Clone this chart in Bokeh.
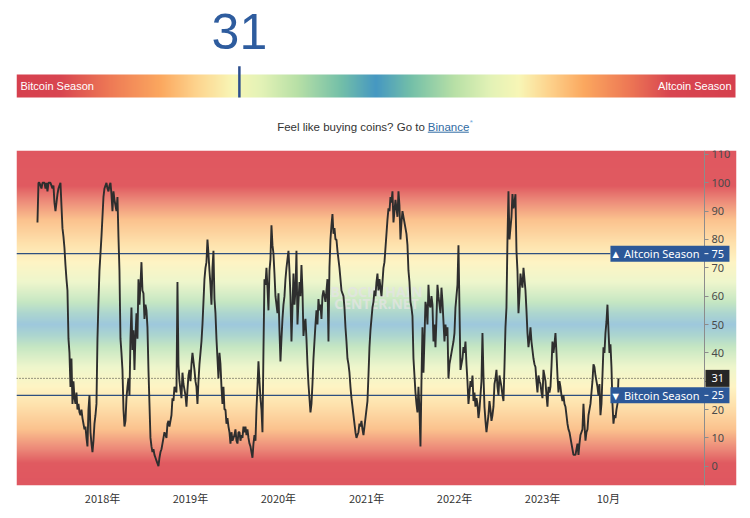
import numpy as np
import pandas as pd
from bokeh.plotting import figure
from bokeh.layouts import column
from bokeh.models import Range1d, LinearAxis, FixedTicker
from bokeh.embed import file_html
from bokeh.resources import INLINE
from bokeh.core.properties import value

# ---------------- data ----------------
first_date = "2017-04-06"
sample_step_days = 4.15
index_values = [
    86, 100, 100, 99, 98, 100, 100, 100, 98, 100, 97, 100, 100, 100, 99, 98, 99, 93, 90, 93,
    96, 98, 99, 100, 92, 84, 81, 77, 71, 66, 62, 45, 40, 28, 38, 22, 30, 24, 22, 26,
    20, 22, 19, 18, 20, 17, 15, 13, 14, 10, 7, 20, 25, 12, 8, 5, 9, 15, 18, 22,
    45, 58, 69, 75, 81, 88, 95, 98, 99, 100, 98, 97, 99, 100, 96, 90, 97, 94, 92, 90,
    95, 81, 69, 45, 40, 34, 20, 14, 16, 24, 28, 31, 25, 45, 56, 41, 48, 34, 46, 54,
    45, 66, 57, 64, 72, 62, 61, 52, 57, 55, 49, 34, 22, 10, 7, 5, 6, 4, 3, 2,
    1, 0, 3, 5, 6, 8, 10, 12, 11, 10, 15, 16, 14, 16, 18, 24, 23, 28, 27, 26,
    65, 36, 30, 27, 24, 33, 29, 27, 25, 21, 27, 32, 34, 30, 36, 40, 37, 34, 30, 28,
    22, 30, 36, 40, 44, 50, 58, 66, 70, 72, 80, 75, 69, 64, 57, 70, 76, 59, 54, 45,
    38, 31, 40, 36, 28, 22, 28, 20, 20, 15, 17, 14, 12, 8, 12, 9, 10, 11, 13, 9,
    8, 12, 12, 9, 11, 10, 14, 12, 14, 11, 13, 10, 8, 7, 5, 3, 8, 11, 9, 20,
    28, 37, 30, 24, 20, 12, 41, 66, 64, 70, 63, 55, 69, 73, 85, 78, 75, 68, 60, 57,
    54, 61, 48, 37, 45, 52, 57, 60, 66, 70, 73, 76, 69, 60, 44, 56, 68, 57, 62, 76,
    50, 58, 65, 60, 71, 62, 46, 50, 52, 45, 36, 29, 24, 19, 22, 29, 38, 44, 50, 55,
    50, 59, 55, 57, 52, 60, 62, 60, 58, 62, 66, 44, 70, 80, 85, 89, 82, 84, 80, 80,
    76, 73, 70, 66, 62, 61, 60, 56, 49, 44, 38, 36, 33, 28, 24, 21, 18, 15, 12, 10,
    11, 12, 15, 14, 16, 13, 11, 14, 17, 20, 23, 32, 42, 48, 52, 56, 58, 62, 60, 65,
    68, 62, 66, 63, 60, 65, 70, 72, 77, 82, 87, 91, 90, 95, 93, 97, 86, 90, 94, 91,
    88, 97, 92, 80, 86, 90, 88, 86, 84, 82, 78, 69, 65, 58, 56, 53, 38, 32, 26, 22,
    19, 28, 20, 7, 30, 49, 33, 45, 58, 56, 50, 64, 57, 56, 60, 57, 44, 50, 42, 52,
    64, 60, 57, 54, 63, 58, 51, 44, 50, 46, 49, 31, 36, 38, 40, 42, 44, 47, 56, 60,
    64, 78, 56, 34, 36, 38, 42, 40, 44, 36, 30, 22, 26, 30, 28, 32, 23, 26, 21, 24,
    22, 17, 20, 25, 30, 47, 32, 21, 16, 12, 15, 18, 23, 20, 16, 18, 21, 29, 31, 34,
    28, 25, 32, 30, 28, 25, 23, 35, 49, 56, 80, 97, 80, 84, 88, 96, 91, 93, 96, 76,
    69, 54, 60, 68, 65, 63, 70, 66, 62, 55, 47, 42, 45, 49, 44, 41, 38, 36, 35, 30,
    26, 32, 30, 29, 26, 24, 34, 32, 30, 25, 21, 28, 26, 28, 35, 44, 40, 43, 47, 40,
    32, 26, 30, 28, 25, 23, 25, 22, 21, 18, 15, 13, 12, 10, 8, 6, 4, 4, 4, 6,
    8, 4, 8, 11, 12, 13, 22, 15, 9, 12, 13, 18, 20, 22, 26, 30, 36, 35, 32, 30,
    28, 25, 29, 18, 22, 32, 42, 40, 47, 51, 57, 48, 40, 43, 35, 22, 15, 18, 17, 20,
    22, 31,
]
current_value = index_values[-1]

x_tick_dates = ["2018-01-01", "2019-01-01", "2020-01-01", "2021-01-01",
                "2022-01-01", "2023-01-01", "2023-10-01"]
x_tick_labels = ["2018年", "2019年", "2020年", "2021年", "2022年", "2023年", "10月"]
y_ticks = [0, 10, 20, 30, 40, 50, 60, 70, 80, 90, 100, 110]

altcoin_level = 75
bitcoin_level = 25
altcoin_tag = "▲ Altcoin Season"
bitcoin_tag = "▼ Bitcoin Season"

# colour scale of the index bar (index value -> colour)
bar_stop_values = [0, 6, 13, 20, 25, 30, 34, 39, 45, 50, 55, 61, 66, 70, 74, 79, 85, 91, 100]
bar_stop_colors = ["#d6404e", "#d84550", "#ee7a55", "#fba85f", "#fdd48e", "#f8f6b6",
                   "#e3f2b6", "#b8e0a6", "#74c0a8", "#4597c2", "#74c0a8", "#b8e0a6",
                   "#e3f2b6", "#f8f6b6", "#fdd48e", "#fba85f", "#ee7a55", "#d84550", "#d6404e"]
# colour scale of the chart background (index value -> colour)
bg_stop_values = [-10, 1, 6, 13, 21, 28, 35, 42, 46, 50, 54, 58, 65, 72, 79, 87, 94, 99, 120]
bg_stop_colors = ["#df5560", "#e05a60", "#ec8878", "#fbc28e", "#fee0ab", "#fef4c4",
                  "#eef6cc", "#c6e7c3", "#add6cf", "#9ec8dc", "#add6cf", "#c6e7c3",
                  "#eef6cc", "#fef4c4", "#fee0ab", "#fbc28e", "#ec8878", "#e05a60", "#df5560"]


def hex_rgb(h):
    h = h.lstrip("#")
    return [int(h[i:i + 2], 16) for i in (0, 2, 4)]


def gradient_rgba(grid, stop_values, stop_colors, shape):
    rgb = np.array([hex_rgb(c) for c in stop_colors], dtype=float)
    img = np.empty(shape, dtype=np.uint32)
    view = img.view(dtype=np.uint8).reshape(shape + (4,))
    flat = view.reshape(-1, 4)
    for k in range(3):
        flat[:, k] = np.round(np.interp(grid, stop_values, rgb[:, k])).astype(np.uint8)
    flat[:, 3] = 255
    return img


FONT = "Liberation Sans"
CHART_FONT = "Noto Sans"

# shared horizontal frame (both figures are frame-aligned in the column)
W = 750
FRAME_LEFT = 16
FRAME_W = 720
FRAME_RIGHT_BORDER = W - FRAME_LEFT - FRAME_W

# ---------------- header: current value + index bar ----------------
HDR_H = 142
bar_px_per_unit = 719 / 100.0          # the bar is 719 px long for 0..100
hdr = figure(width=W, height=HDR_H,
             x_range=Range1d(0, FRAME_W / bar_px_per_unit),
             y_range=Range1d(0, HDR_H),
             x_axis_location=None, y_axis_location=None,
             toolbar_location=None, output_backend="svg",
             min_border_left=FRAME_LEFT, min_border_right=FRAME_RIGHT_BORDER,
             min_border_top=0, min_border_bottom=0)
hdr.grid.visible = False
hdr.outline_line_color = None

bar_grid = np.linspace(0, 100, 720)
bar_img = gradient_rgba(bar_grid, bar_stop_values, bar_stop_colors, (1, 720))
hdr.image_rgba(image=[bar_img], x=0, y=45, dw=100, dh=23)

hdr.segment(x0=[current_value], y0=[45], x1=[current_value], y1=[76.3],
            line_color="#2d4f8e", line_width=2.5)
hdr.text(x=[current_value], y=[110.8], text=[str(current_value)],
         text_font=value(FONT), text_font_size="50px", text_color="#2e5c9e",
         text_align="center", text_baseline="middle")
hdr.text(x=[0], y=[56.5], text=["Bitcoin Season"], x_offset=4,
         text_font=value(FONT), text_font_size="11px", text_color="white",
         text_align="left", text_baseline="middle")
hdr.text(x=[100], y=[56.5], text=["Altcoin Season"], x_offset=-4,
         text_font=value(FONT), text_font_size="11px", text_color="white",
         text_align="right", text_baseline="middle")

promo_x = 57.0
hdr.text(x=[promo_x], y=[16], text=["Feel like buying coins? Go to"], x_offset=-1.5,
         text_font=value(FONT), text_font_size="11.5px", text_color="#333333",
         text_align="right", text_baseline="middle")
hdr.text(x=[promo_x], y=[16], text=["Binance"], x_offset=1.5,
         text_font=value(FONT), text_font_size="11.5px", text_color="#2f6aa3",
         text_align="left", text_baseline="middle")
hdr.segment(x0=[promo_x + 1.5 / bar_px_per_unit], y0=[10.3],
            x1=[promo_x + 42.5 / bar_px_per_unit], y1=[10.3],
            line_color="#2f6aa3", line_width=1)
hdr.text(x=[promo_x], y=[20], text=["*"], x_offset=43.5,
         text_font=value(FONT), text_font_size="8px", text_color="#6fa8dc",
         text_align="left", text_baseline="middle")

# ---------------- main chart ----------------
def ms(d):
    return pd.Timestamp(d).value / 1e6


x_start = ms("2017-01-09")
x_end = ms("2025-03-16")
axis_at = ms("2024-11-03")
y_min, y_max = -6.8, 111.4
frame_h = 335
ms_per_px = (x_end - x_start) / FRAME_W
val_per_px = (y_max - y_min) / frame_h

dates = pd.Timestamp(first_date) + pd.to_timedelta(
    np.arange(len(index_values)) * sample_step_days, unit="D")

p = figure(width=W, height=368, x_axis_type="datetime",
           x_range=Range1d(x_start, x_end), y_range=Range1d(y_min, y_max),
           y_axis_location=None, toolbar_location=None, output_backend="svg",
           min_border_left=FRAME_LEFT, min_border_right=FRAME_RIGHT_BORDER,
           min_border_top=8, min_border_bottom=25)
p.grid.visible = False
p.outline_line_color = None

bg_grid = np.linspace(y_min, y_max, 900)
bg_img = gradient_rgba(bg_grid, bg_stop_values, bg_stop_colors, (900, 1))
p.image_rgba(image=[bg_img], x=x_start, y=y_min, dw=x_end - x_start, dh=y_max - y_min)

# watermark
mid_x = (x_start + x_end) / 2
p.text(x=[mid_x, mid_x], y=[61.6, 57.4], text=["BLOCKCHAIN", "CENTER.NET"],
       text_font=value(CHART_FONT), text_font_size="14px", text_font_style="bold",
       text_color="#e4e4e4", text_alpha=0.75, text_align="center", text_baseline="middle")

# season level lines and current-value line
box_left = axis_at - 94 * ms_per_px
box_right = axis_at + 25 * ms_per_px
p.segment(x0=[x_start, x_start], y0=[altcoin_level, bitcoin_level],
          x1=[box_left, box_left], y1=[altcoin_level, bitcoin_level],
          line_color="#2f4f80", line_width=1.2)
p.segment(x0=[x_start], y0=[current_value], x1=[axis_at], y1=[current_value],
          line_color="#333333", line_width=1, line_dash="1 2")

p.line(x=dates, y=index_values, line_color="#2e2e2e", line_width=1.9)

# right value axis, drawn inside the plot
yax = LinearAxis(fixed_location=axis_at, ticker=FixedTicker(ticks=y_ticks),
                 axis_line_color="#8c8c8c", major_tick_line_color="#8c8c8c",
                 major_tick_out=4, major_tick_in=0, minor_tick_line_color=None,
                 major_label_text_font=CHART_FONT, major_label_text_font_size="11px",
                 major_label_text_color="#4a4a4a", major_label_standoff=3)
p.add_layout(yax, "right")

# bottom date axis
tick_ms = [int(ms(d)) for d in x_tick_dates]
xa = p.xaxis[0]
xa.ticker = FixedTicker(ticks=tick_ms)
xa.major_label_overrides = {t: lbl for t, lbl in zip(tick_ms, x_tick_labels)}
xa.axis_line_color = None
xa.major_tick_line_color = None
xa.major_tick_out = 0
xa.major_tick_in = 0
xa.minor_tick_line_color = None
xa.major_label_text_font = "Noto Sans CJK SC"
xa.major_label_text_font_size = "11px"
xa.major_label_text_color = "#333333"
xa.major_label_standoff = 4

# tags on the value axis
half = 8 * val_per_px
renderers = []
renderers.append(p.quad(left=[box_left, box_left], right=[box_right, box_right],
                        top=[altcoin_level + half, bitcoin_level + half],
                        bottom=[altcoin_level - half, bitcoin_level - half],
                        fill_color="#2c5898", line_color=None))
cur_half = 8.5 * val_per_px
renderers.append(p.quad(left=[axis_at + 1 * ms_per_px], right=[box_right],
                        top=[current_value + cur_half], bottom=[current_value - cur_half],
                        fill_color="#262626", line_color=None))
renderers.append(p.text(x=[axis_at, axis_at], y=[altcoin_level, bitcoin_level],
                        text=[altcoin_tag, bitcoin_tag], x_offset=-5,
                        text_font=value(CHART_FONT), text_font_size="11px",
                        text_color="white", text_align="right", text_baseline="middle"))
renderers.append(p.text(x=[axis_at, axis_at, axis_at],
                        y=[altcoin_level, bitcoin_level, current_value],
                        text=[str(altcoin_level), str(bitcoin_level), str(current_value)],
                        x_offset=7, text_font=value(CHART_FONT), text_font_size="11px",
                        text_color="white", text_align="left", text_baseline="middle"))
renderers.append(p.ray(x=[axis_at, axis_at], y=[altcoin_level, bitcoin_level],
                       length=4, length_units="screen", angle=0,
                       line_color="white", line_width=1))
for r in renderers:
    r.level = "overlay"

layout = column(hdr, p, spacing=0)
open("out.html", "w").write(file_html(layout, INLINE))
